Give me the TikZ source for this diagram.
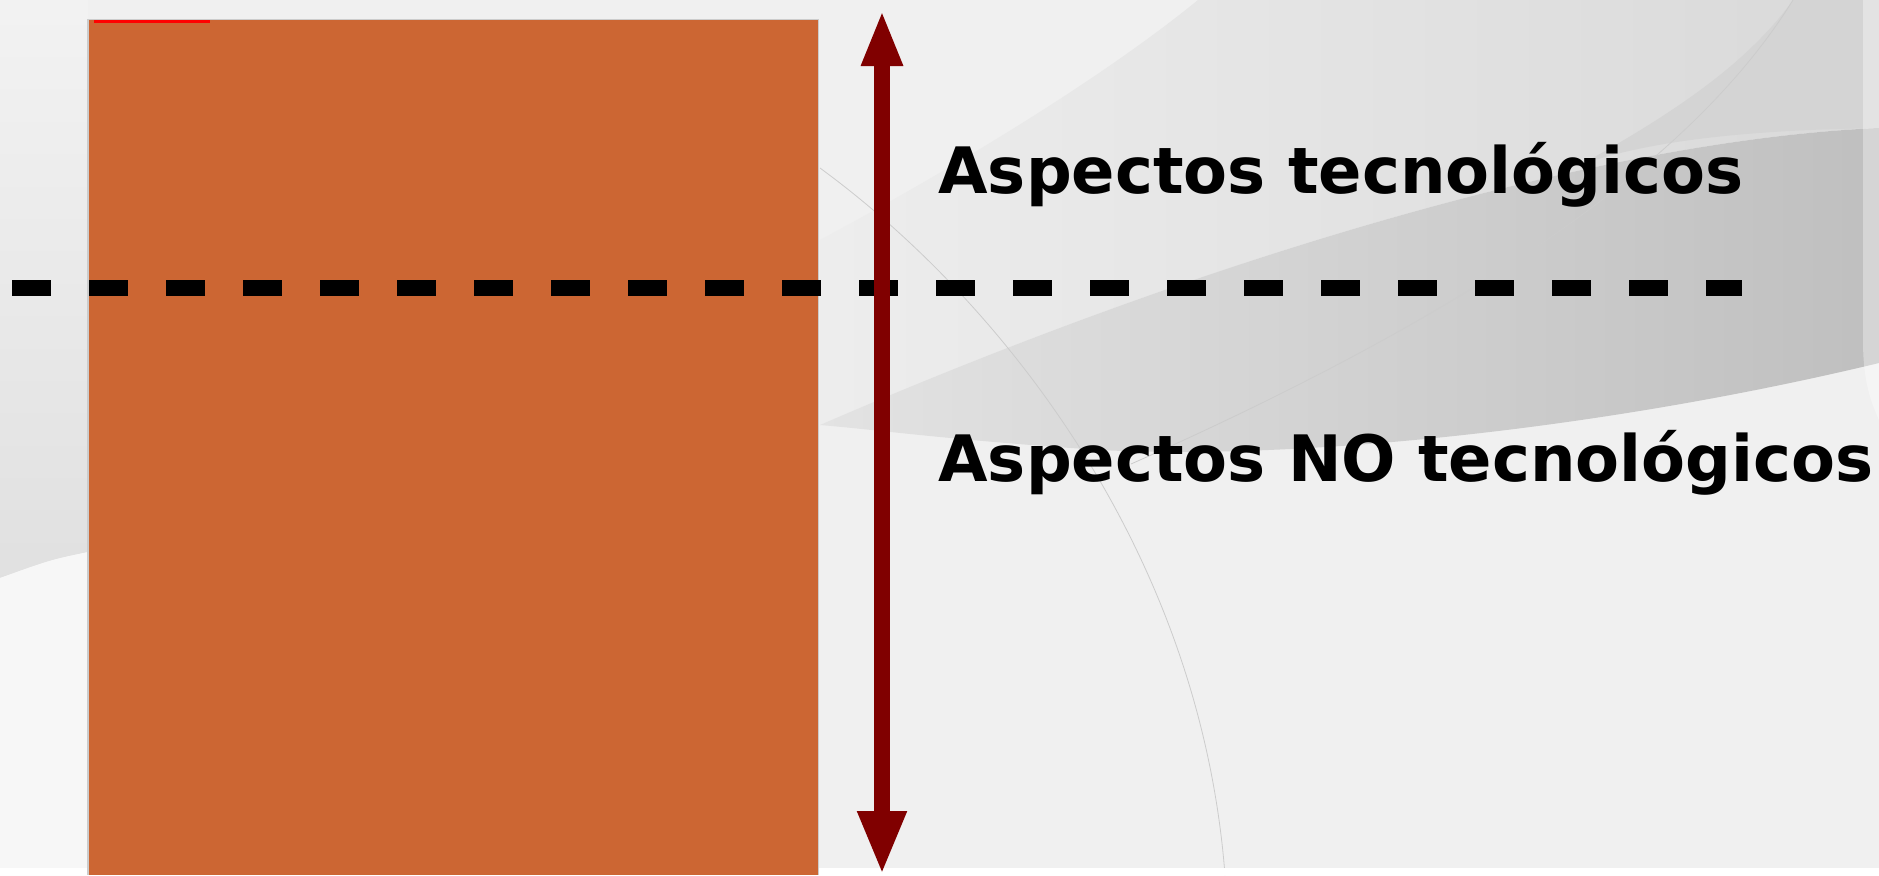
\documentclass[tikz,border=0pt]{standalone}
\usepackage{fontspec}
\setmainfont{DejaVu Sans}
\usetikzlibrary{arrows.meta}
\definecolor{ladrillo}{RGB}{204,102,51}
\definecolor{granate}{RGB}{128,0,0}
\tikzset{>=latex,
	rotulo/.style={anchor=base west, inner sep=0pt, font=\fontsize{32}{38}\selectfont\bfseries},
	frontera/.style={line width=8pt, dash pattern=on 19.5pt off 19pt},
	flecha/.style={granate, line width=8pt, {Triangle[length=28pt,width=19pt]}-{Triangle[length=32pt,width=22.5pt]}},
	veta/.style={black!20, thin},
}
\begin{document}
\begin{tikzpicture}[x=0.5pt,y=-0.5pt]
	\useasboundingbox (0,0) rectangle (1879,875);
%	fondo gris con curvas
	\fill [black!6] (0,0) rectangle (1879,875);
	\shade [top color=black!5, bottom color=black!12] (0,0) -- (88,0) -- (88,552) .. controls (50,560) .. (0,578) -- cycle;
	\fill [black!3] (0,578) .. controls (50,560) .. (88,552) -- (88,875) -- (0,875) -- cycle;
	\shade [left color=black!7, right color=black!15] (820,240) .. controls (950,170) and (1100,80) .. (1198,0) -- (1879,0) -- (1879,128) .. controls (1600,140) and (1200,260) .. (820,425) -- cycle;
	\fill [black!17] (1793,0) -- (1879,0) -- (1879,128) .. controls (1750,130) and (1650,140) .. (1580,165) .. controls (1680,110) and (1750,60) .. (1793,0);
	\shade [left color=black!11, right color=black!25] (820,425) .. controls (1200,260) and (1600,140) .. (1879,128) -- (1879,363) .. controls (1600,430) and (1300,460) .. (1100,450) .. controls (950,440) and (880,430) .. (820,425) -- cycle;
	\fill [white, opacity=.35] (1863,0) -- (1879,0) -- (1879,420) .. controls (1870,400) and (1863,380) .. (1863,340) -- cycle;
	\draw [veta] (820,168) .. controls (1000,300) and (1200,550) .. (1225,875);
	\draw [veta] (1793,0) .. controls (1700,150) and (1500,300) .. (1131,464);
	\fill [white] (0,868) rectangle (1879,875);
%	bloque naranja
	\fill [black!20] (87,19) rectangle (819,875);
	\fill [ladrillo] (89,20) rectangle (818,875);
	\fill [red] (94,20) rectangle (210,23);
%	linea de separacion
	\coordinate (izq) at (12,288);
	\coordinate (der) at (1742,288);
	\draw [frontera] (izq) -- (der);
%	flecha vertical
	\coordinate (arriba) at (882,10);
	\coordinate (abajo) at (882,875);
	\draw [flecha] (arriba) -- (abajo);
%	textos
	\node [rotulo] (tec) at (938,193) {Aspectos tecnológicos};
	\node [rotulo] (notec) at (938,481) {Aspectos NO tecnológicos};
\end{tikzpicture}
\end{document}
